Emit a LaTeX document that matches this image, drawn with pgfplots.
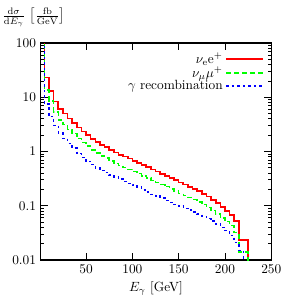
\documentclass[border=0pt]{standalone}
\usepackage{pgfplots}
\pgfplotsset{compat=1.18}
\begin{document}
\begin{tikzpicture}
\begin{axis}[
  name=ax,
  scale only axis,
  width=172.95pt, height=162.75pt,
  xmode=normal, ymode=log,
  xmin=1, xmax=250, ymin=0.01, ymax=100,
  xtick={50,100,150,200,250},
  ytick={0.01,0.1,1,10,100},
  log ticks with fixed point,
  tick pos=both, tick align=inside,
  major tick length=5.25pt, minor tick length=2.6pt,
  axis line style={line width=0.8pt},
  every tick/.style={black, line width=0.6pt},
  minor x tick num=0,
  xlabel={$E_\gamma$ [GeV]},
  xlabel style={yshift=1pt},
  legend plot pos=right,
  legend cell align=right,
  legend style={at={(1,1)}, anchor=north east, draw=none, fill=none,
    xshift=-4.5pt, yshift=-4pt, row sep=-3pt, inner sep=1pt},
  legend image code/.code={\draw[#1] (0pt,0pt) -- (27.5pt,0pt);},
]
\addplot[const plot, color=red, line width=1.2pt] coordinates {
(0,300) (5,23) (10,13.2) (15,8.3) (20,6.0) (25,5.0) (30,4.07) (35,3.39)
(40,2.75) (45,2.34) (50,2.0) (55,1.70) (60,1.48) (65,1.32) (70,1.20)
(75,1.07) (80,0.955) (85,0.87) (90,0.81) (95,0.74) (100,0.676) (105,0.617)
(110,0.562) (115,0.513) (120,0.468) (125,0.427) (130,0.389) (135,0.355)
(140,0.324) (145,0.295) (150,0.269) (155,0.245) (160,0.224) (165,0.204)
(170,0.186) (175,0.166) (180,0.148) (185,0.129) (190,0.112) (195,0.095)
(200,0.081) (205,0.068) (210,0.052) (215,0.0235) (220,0.0235) (225,0.001)
};
\addlegendentry{$\nu_{\mathrm{e}}\mathrm{e}^+$}
\addplot[const plot, color=green, line width=1.1pt, dash pattern=on 3.75pt off 2.25pt] coordinates {
(0,300) (5,13.5) (10,8.6) (15,5.3) (20,3.8) (25,3.15) (30,2.56) (35,2.14)
(40,1.73) (45,1.47) (50,1.26) (55,1.07) (60,0.93) (65,0.83) (70,0.756)
(75,0.674) (80,0.60) (85,0.55) (90,0.51) (95,0.466) (100,0.426) (105,0.389)
(110,0.354) (115,0.323) (120,0.295) (125,0.269) (130,0.245) (135,0.224)
(140,0.204) (145,0.186) (150,0.169) (155,0.154) (160,0.141) (165,0.129)
(170,0.117) (175,0.105) (180,0.093) (185,0.081) (190,0.070) (195,0.060)
(200,0.051) (205,0.043) (210,0.032) (215,0.014) (220,0.014) (225,0.001)
};
\addlegendentry{$\nu_\mu\mu^+$}
\addplot[const plot, color=blue, line width=1.1pt, dash pattern=on 1.9pt off 2.25pt] coordinates {
(0,300) (5,7.5) (10,4.4) (15,3.0) (20,2.2) (25,1.75) (30,1.42) (35,1.15)
(40,0.92) (45,0.78) (50,0.66) (55,0.57) (60,0.50) (65,0.45) (70,0.41)
(75,0.37) (80,0.34) (85,0.31) (90,0.28) (95,0.26) (100,0.24) (105,0.22)
(110,0.195) (115,0.178) (120,0.163) (125,0.150) (130,0.138) (135,0.126)
(140,0.116) (145,0.106) (150,0.098) (155,0.090) (160,0.083) (165,0.076)
(170,0.070) (175,0.064) (180,0.058) (185,0.052) (190,0.046) (195,0.040)
(200,0.035) (205,0.028) (210,0.021) (215,0.015) (220,0.001)
};
\addlegendentry{$\gamma$ recombination}
\end{axis}
\node[anchor=north west, inner sep=0pt] at ([xshift=-29pt,yshift=26.5pt]ax.north west)
  {$\frac{\mathrm{d}\sigma}{\mathrm{d}E_\gamma}\,\left[\frac{\mathrm{fb}}{\mathrm{GeV}}\right]$};
\pgfresetboundingbox
\path[use as bounding box] ([xshift=-30.5pt,yshift=-32.25pt]ax.south west) rectangle ([xshift=9.5pt,yshift=32.25pt]ax.north east);
\end{tikzpicture}
\end{document}
